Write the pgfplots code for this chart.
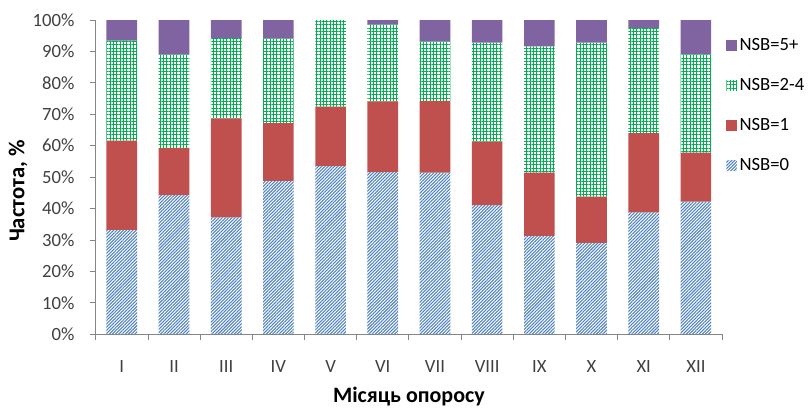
\documentclass[border=0pt]{standalone}
\usepackage{pgfplots}
\pgfplotsset{compat=1.18}
\usepackage{pgfplotstable}
\usepackage{fontspec}
\setmainfont{Carlito}
\usetikzlibrary{patterns.meta}
\definecolor{cblue}{HTML}{4F81BD}
\definecolor{cred}{HTML}{C0504D}
\definecolor{cgreen}{HTML}{00B050}
\definecolor{cpurple}{HTML}{8064A2}
\definecolor{axgray}{HTML}{868686}
\definecolor{txtgray}{HTML}{404040}
\pgfplotstableread{
x n0 n1 n24 n5
0 33.2 28.4 31.8 6.6
1 44.3 15.0 29.7 11.0
2 37.2 31.5 25.5 5.8
3 48.8 18.4 26.9 5.9
4 53.5 18.9 27.6 0.0
5 51.6 22.5 24.4 1.5
6 51.4 22.9 18.8 6.9
7 41.1 20.2 31.5 7.2
8 31.3 20.1 40.2 8.4
9 29.1 14.7 49.0 7.2
10 38.8 25.2 33.5 2.5
11 42.2 15.6 31.3 10.9
}\data
\begin{document}
\begin{tikzpicture}
\begin{axis}[
  at={(71.8pt,55.3pt)}, anchor=south west,
  scale only axis, width=469.7pt, height=235.7pt,
  ybar stacked, bar width=23pt,
  xmin=-0.5, xmax=11.5, ymin=0, ymax=100,
  axis lines*=left,
  axis line style={axgray, line width=0.6pt},
  tick align=outside,
  tick style={axgray, line width=0.6pt},
  xtick={0,...,11},
  xticklabels={I,II,III,IV,V,VI,VII,VIII,IX,X,XI,XII},
  major x tick style={draw=none},
  minor xtick={-0.5,0.5,...,11.5},
  minor tick length=4.5pt,
  major tick length=4.5pt,
  ytick={0,10,...,100},
  yticklabel={\pgfmathprintnumber{\tick}\%},
  /pgf/number format/assume math mode=true,
  ticklabel style={font=\fontsize{14}{16}\selectfont, text=txtgray},
  xticklabel style={yshift=-12pt},
  yticklabel style={xshift=-8pt},
  ylabel={\textbf{Частота, \%}},
  xlabel={\textbf{Місяць опоросу}},
  ylabel style={at={(axis description cs:-0.124,0.456)}, anchor=center, font=\fontsize{17}{19}\selectfont},
  xlabel style={at={(axis description cs:0.5,-0.199)}, anchor=center, font=\fontsize{16.5}{19}\selectfont},
  reverse legend,
  legend cell align=left,
  legend style={at={(rel axis cs:1.0,0.728)}, anchor=west, draw=none, fill=none,
    font=\fontsize{14}{16}\selectfont, row sep=15.5pt},
  legend image code/.code={\path[#1] (0pt,-4pt) rectangle (8pt,4pt);},
]
\addplot[draw=none, pattern={Lines[angle=45,distance=1.7pt,line width=0.8pt]}, pattern color=cblue] table[x=x,y=n0]{\data};
\addplot[draw=none, fill=cred] table[x=x,y=n1]{\data};
\addplot[draw=none, pattern={Hatch[angle=0,distance=2.5pt,line width=0.55pt]}, pattern color=cgreen] table[x=x,y=n24]{\data};
\addplot[draw=none, fill=cpurple] table[x=x,y=n5]{\data};
\legend{NSB=0,NSB=1,NSB=2-4,NSB=5+}
\end{axis}
\pgfresetboundingbox
\path (0,0) rectangle (608.25pt,306pt);
\end{tikzpicture}
\end{document}
